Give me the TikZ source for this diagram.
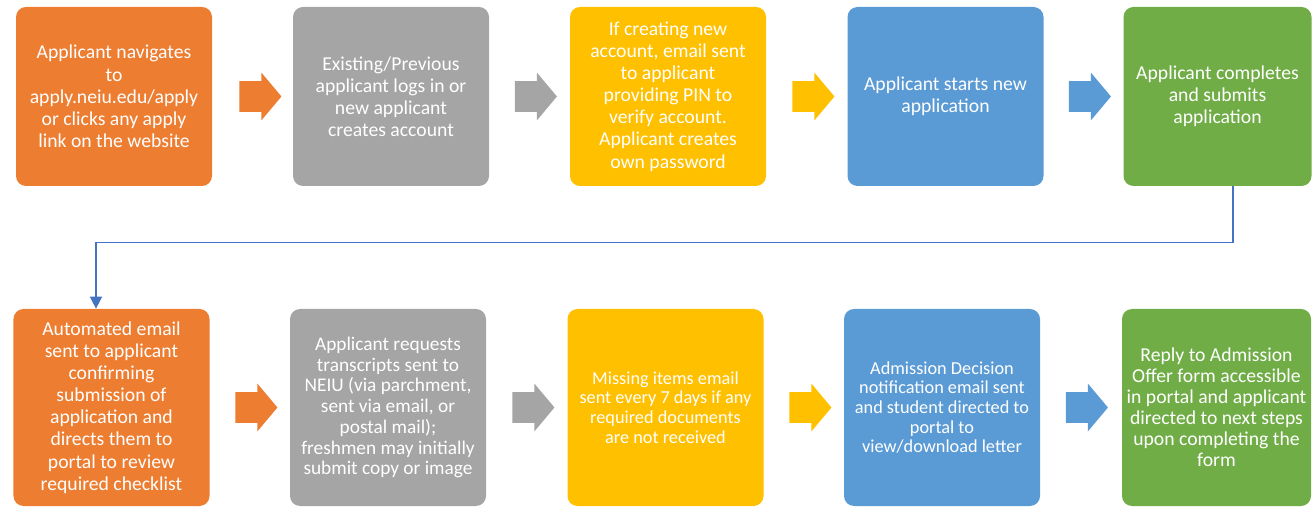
\documentclass[tikz,border=0pt]{standalone}
\usepackage{fontspec}
\setmainfont{Carlito}
\usetikzlibrary{shapes.arrows,arrows.meta}
\definecolor{carrot}{RGB}{237, 125, 49}
\definecolor{concrete}{RGB}{165, 165, 165}
\definecolor{sunflower}{RGB}{255, 192, 0}
\definecolor{peterriver}{RGB}{91, 155, 213}
\definecolor{grass}{RGB}{112, 173, 71}
\definecolor{belize}{RGB}{68, 114, 196}
\tikzset{
    stepbox/.style={rounded corners=0.2cm, text=white, align=center, inner sep=1pt,
                    minimum width=3.92cm, font=\fontsize{11.2}{12.6}\selectfont},
    toprow/.style={stepbox, minimum height=3.58cm},
    lowrow/.style={stepbox, minimum height=3.94cm},
    smalltext/.style={font=\fontsize{10.4}{11.2}\selectfont},
    blockarrow/.style={single arrow, draw=none, inner xsep=0pt, inner ysep=0.3cm,
                       minimum height=0.84cm, single arrow head extend=0.17cm,
                       single arrow tip angle=100},
    flowline/.style={belize, line width=0.85pt, -{Triangle[length=2.4mm,width=2.4mm]}}
}

\begin{document}
\begin{tikzpicture}
            \useasboundingbox (0,0) rectangle (26.24,10.16);
            % first row
            \node[toprow, fill=carrot]     (a1) at ( 2.28, 8.23) {Applicant navigates\\to\\apply.neiu.edu/apply\\or clicks any apply\\link on the website};
            \node[toprow, fill=concrete]   (a2) at ( 7.82, 8.23) {Existing/Previous\\applicant logs in or\\new applicant\\creates account};
            \node[toprow, fill=sunflower]  (a3) at (13.36, 8.23) {If creating new\\account, email sent\\to applicant\\providing PIN to\\verify account.\\Applicant creates\\own password};
            \node[toprow, fill=peterriver] (a4) at (18.91, 8.23) {Applicant starts new\\application};
            \node[toprow, fill=grass, minimum width=3.76cm] (a5) at (24.35, 8.23) {Applicant completes\\and submits\\application};
            \node[blockarrow, fill=carrot]     (r1) at ( 5.08, 8.23) {};
            \node[blockarrow, fill=concrete]   (r2) at (10.59, 8.23) {};
            \node[blockarrow, fill=sunflower]  (r3) at (16.14, 8.23) {};
            \node[blockarrow, fill=peterriver] (r4) at (21.67, 8.23) {};
            % second row
            \node[lowrow, fill=carrot]     (b1) at ( 2.23, 2.01) {Automated email\\sent to applicant\\confirming\\submission of\\application and\\directs them to\\portal to review\\required checklist};
            \node[lowrow, fill=concrete, font=\fontsize{11}{11.8}\selectfont] (b2) at ( 7.76, 2.01) {Applicant requests\\transcripts sent to\\NEIU (via parchment,\\sent via email, or\\postal mail);\\freshmen may initially\\submit copy or image};
            \node[lowrow, smalltext, fill=sunflower]  (b3) at (13.31, 2.01) {Missing items email\\sent every 7 days if any\\required documents\\are not received};
            \node[lowrow, smalltext, fill=peterriver] (b4) at (18.84, 2.01) {Admission Decision\\notification email sent\\and student directed to\\portal to\\view/download letter};
            \node[lowrow, fill=grass, minimum width=3.78cm, font=\fontsize{11.2}{12}\selectfont] (b5) at (24.33, 2.01) {Reply to Admission\\Offer form accessible\\in portal and applicant\\directed to next steps\\upon completing the\\form};
            \node[blockarrow, fill=carrot]     (s1) at ( 5.00, 2.01) {};
            \node[blockarrow, fill=concrete]   (s2) at (10.54, 2.01) {};
            \node[blockarrow, fill=sunflower]  (s3) at (16.08, 2.01) {};
            \node[blockarrow, fill=peterriver] (s4) at (21.61, 2.01) {};
            \draw[flowline] ([xshift=0.31cm]a5.south) -- ++(0,-1.12) -| ([xshift=-0.31cm]b1.north);
        \end{tikzpicture}
\end{document}
